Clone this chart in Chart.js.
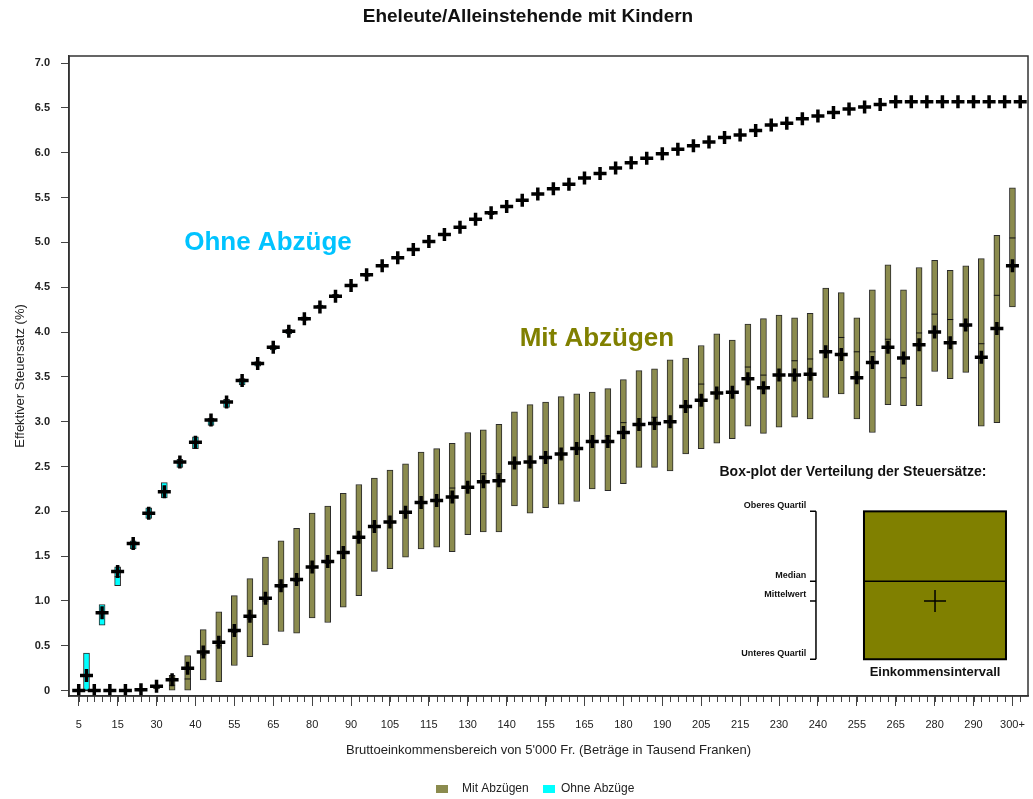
<!DOCTYPE html>
<html>
<head>
<meta charset="utf-8">
<script src="https://cdn.jsdelivr.net/npm/chart.js@4.4.1/dist/chart.umd.min.js"></script>
<style>
html,body{margin:0;padding:0;background:#ffffff;}
#wrap{width:1033px;height:799px;position:relative;}
</style>
</head>
<body>
<div id="wrap"><canvas id="c"></canvas></div>
<script>
// ---------- data ----------
const categories = ['5','10','15','20','25','30','35','40','45','50','55','60','65','70','75','80','85','90','95','100',
  '105','110','115','120','125','130','135','140','145','150','155','160','165','170','175','180','185','190','195','200',
  '205','210','215','220','225','230','235','240','245','250','255','260','265','270','275','280','285','290','295','300','300+'];

// Mit Abzügen (with deductions): quartiles, median, mean
const mitQ1 = [0,0,0,0,0,0.02,0,0,0.12,0.10, 0.28,0.38,0.51,0.66,0.64, 0.81,0.76,0.93,1.06,1.33, 1.36,1.49,1.58,1.60,1.55,
  1.74,1.77,1.77,2.06,1.98, 2.04,2.08,2.11,2.25,2.23, 2.31,2.49,2.49,2.45,2.64, 2.70,2.76,2.81,2.95,2.87,
  2.94,3.05,3.03,3.27,3.31, 3.03,2.88,3.19,3.18,3.18, 3.56,3.48,3.55,2.95,2.99, 4.28];
const mitQ3 = [0,0,0,0,0.02,0.06,0.17,0.39,0.68,0.88, 1.06,1.25,1.49,1.67,1.81, 1.98,2.06,2.20,2.30,2.37, 2.46,2.53,2.66,2.70,2.76,
  2.88,2.91,2.97,3.11,3.19, 3.22,3.28,3.31,3.33,3.37, 3.47,3.57,3.59,3.69,3.71, 3.85,3.98,3.91,4.09,4.15,
  4.19,4.16,4.21,4.49,4.44, 4.16,4.47,4.75,4.47,4.72, 4.80,4.69,4.74,4.82,5.08, 5.61];
const mitMedian = [0,0,0,0,0,0.04,0.06,0.13,0.40,0.50, 0.65,0.80,1.00,1.15,1.22, 1.37,1.42,1.53,1.70,1.82, 1.87,1.98,2.09,2.12,2.26,
  2.27,2.42,2.42,2.54,2.55, 2.60,2.64,2.70,2.78,2.84, 2.99,2.97,3.05,3.00,3.17, 3.42,3.32,3.33,3.61,3.52,
  3.52,3.68,3.70,3.78,3.94, 3.78,3.78,3.92,3.49,3.99, 4.20,4.14,4.06,3.87,4.41, 5.05];
const mitMean = [0,0,0,0,0.01,0.05,0.12,0.25,0.43,0.54, 0.67,0.83,1.03,1.17,1.24, 1.38,1.44,1.54,1.71,1.83, 1.88,1.99,2.10,2.12,2.16,
  2.27,2.33,2.34,2.54,2.55, 2.60,2.64,2.70,2.78,2.78, 2.88,2.97,2.98,3.00,3.17, 3.24,3.32,3.33,3.48,3.38,
  3.52,3.52,3.53,3.78,3.75, 3.49,3.66,3.83,3.71,3.86, 4.00,3.88,4.08,3.72,4.04, 4.74];

// Ohne Abzüge (without deductions)
const ohneQ1 = [0.00,0.73,1.17,1.58,1.92,2.15,2.49,2.70,2.96,3.16, 3.41,3.62,3.80,3.98,4.13, 4.27,4.39,4.51,4.62,4.73, 4.82,4.91,5.00,5.08,5.16,
  5.24,5.31,5.39,5.46,5.53, 5.59,5.64,5.71,5.76,5.82, 5.88,5.93,5.98,6.03,6.07, 6.11,6.16,6.19,6.24,6.30,
  6.32,6.37,6.40,6.44,6.48, 6.50,6.53,6.56,6.56,6.56, 6.56,6.56,6.56,6.56,6.56, 6.56];
const ohneQ3 = [0.42,0.96,1.38,1.67,2.04,2.32,2.58,2.83,3.04,3.25, 3.48,3.67,3.85,4.03,4.17, 4.30,4.42,4.53,4.65,4.75, 4.84,4.93,5.02,5.10,5.18,
  5.27,5.34,5.41,5.48,5.55, 5.61,5.66,5.73,5.78,5.84, 5.90,5.95,6.00,6.05,6.09, 6.13,6.18,6.21,6.26,6.32,
  6.34,6.39,6.42,6.46,6.50, 6.52,6.55,6.58,6.58,6.58, 6.58,6.58,6.58,6.58,6.58, 6.58];
const ohneMedian = [0.00,0.88,1.27,1.63,1.98,2.22,2.54,2.76,3.01,3.22, 3.45,3.65,3.83,4.01,4.15, 4.28,4.40,4.52,4.64,4.74, 4.83,4.92,5.01,5.09,5.17,
  5.26,5.33,5.40,5.47,5.54, 5.60,5.65,5.72,5.77,5.83, 5.89,5.94,5.99,6.04,6.08, 6.12,6.17,6.20,6.25,6.31,
  6.33,6.38,6.41,6.45,6.49, 6.51,6.54,6.57,6.57,6.57, 6.57,6.57,6.57,6.57,6.57, 6.57];
const ohneMean = [0.17,0.87,1.33,1.64,1.98,2.22,2.55,2.77,3.02,3.22, 3.46,3.65,3.83,4.01,4.15, 4.28,4.40,4.52,4.64,4.74, 4.83,4.92,5.01,5.09,5.17,
  5.26,5.33,5.40,5.47,5.54, 5.60,5.65,5.72,5.77,5.83, 5.89,5.94,5.99,6.04,6.08, 6.12,6.17,6.20,6.25,6.31,
  6.33,6.38,6.41,6.45,6.49, 6.51,6.54,6.57,6.57,6.57, 6.57,6.57,6.57,6.57,6.57, 6.57];

// axis tick labels
const xTickLabels = ['5','15','30','40','55','65','80','90','105','115','130','140','155','165','180','190',
  '205','215','230','240','255','265','280','290','300+'];
const yTickLabels = ['0','0.5','1.0','1.5','2.0','2.5','3.0','3.5','4.0','4.5','5.0','5.5','6.0','6.5','7.0'];
const yTickValues = [0,0.5,1,1.5,2,2.5,3,3.5,4,4.5,5,5.5,6,6.5,7];

const seriesNames = ['Mit Abzügen','Ohne Abzüge'];
const titleText = 'Eheleute/Alleinstehende mit Kindern';

// ---------- styles ----------
const FONT = "'Liberation Sans', Arial, sans-serif";
const OLIVE_BOX = '#8B8B4E';
const CYAN_BOX = '#00FFFF';
const OLIVE_TXT = '#808000';
const CYAN_TXT = '#00C3FF';

// box slot: Mit at even slot, Ohne at odd slot of each category
const mitBox = categories.map((c, i) => ({x: 2 * i, y: [mitQ1[i], mitQ3[i]]}));
const ohneBox = categories.map((c, i) => ({x: 2 * i + 1, y: [ohneQ1[i], ohneQ3[i]]}));
const mitMed = categories.map((c, i) => ({x: 2 * i, y: mitMedian[i]}));
const ohneMed = categories.map((c, i) => ({x: 2 * i + 1, y: ohneMedian[i]}));
const mitAvg = categories.map((c, i) => ({x: 2 * i, y: mitMean[i]}));
const ohneAvg = categories.map((c, i) => ({x: 2 * i + 1, y: ohneMean[i]}));

Chart.defaults.font.family = FONT;
Chart.defaults.color = '#222';

const deco = {
  id: 'deco',
  afterDraw(chart) {
    const ctx = chart.ctx;
    const xs = chart.scales.x, ys = chart.scales.y, a = chart.chartArea;
    const X = v => xs.getPixelForValue(v), Y = v => ys.getPixelForValue(v);
    ctx.save();
    // minor ticks at every box slot
    ctx.strokeStyle = '#444';
    ctx.lineWidth = 1;
    for (let s = 0; s < categories.length * 2; s++) {
      const px = Math.round(X(s)) + 0.5;
      ctx.beginPath(); ctx.moveTo(px, a.bottom); ctx.lineTo(px, a.bottom + 6); ctx.stroke();
    }
    // plot frame
    ctx.strokeStyle = '#333';
    ctx.lineWidth = 1.5;
    ctx.strokeRect(a.left, a.top, a.right - a.left, a.bottom - a.top);

    // main title
    ctx.fillStyle = '#111';
    ctx.font = 'bold 19px ' + FONT;
    ctx.textAlign = 'center'; ctx.textBaseline = 'middle';
    ctx.fillText(titleText, 528, 17);

    // series labels in plot
    ctx.font = 'bold 26px ' + FONT;
    ctx.fillStyle = CYAN_TXT;
    ctx.fillText('Ohne Abzüge', X(24.32), Y(5.0));
    ctx.fillStyle = OLIVE_TXT;
    ctx.fillText('Mit Abzügen', X(66.6), Y(3.93));

    // inset explanation
    ctx.fillStyle = '#111';
    ctx.font = 'bold 14px ' + FONT;
    ctx.fillText('Box-plot der Verteilung der Steuersätze:', X(99.5), Y(2.44));

    const bx0 = X(100.92), bx1 = X(119.17), by0 = Y(2.0), by1 = Y(0.35), bmed = Y(1.22), bmean = Y(1.0), bxc = X(110.05);
    ctx.fillStyle = '#808000';
    ctx.fillRect(bx0, by0, bx1 - bx0, by1 - by0);
    ctx.strokeStyle = '#000';
    ctx.lineWidth = 2;
    ctx.strokeRect(bx0, by0, bx1 - bx0, by1 - by0);
    ctx.lineWidth = 1.5;
    ctx.beginPath(); ctx.moveTo(bx0, bmed); ctx.lineTo(bx1, bmed); ctx.stroke();
    ctx.beginPath();
    ctx.moveTo(bxc - 11, bmean); ctx.lineTo(bxc + 11, bmean);
    ctx.moveTo(bxc, bmean - 11); ctx.lineTo(bxc, bmean + 11);
    ctx.stroke();

    // bracket
    const brx = X(94.75), brl = X(93.98);
    ctx.beginPath();
    ctx.moveTo(brx, by0); ctx.lineTo(brx, by1);
    [by0, bmed, bmean, by1].forEach(yy => { ctx.moveTo(brl, yy); ctx.lineTo(brx, yy); });
    ctx.stroke();
    ctx.fillStyle = '#111';
    ctx.font = 'bold 9px ' + FONT;
    ctx.textAlign = 'right';
    const lx = X(93.5);
    ctx.fillText('Oberes Quartil', lx, by0 - 6);
    ctx.fillText('Median', lx, bmed - 6);
    ctx.fillText('Mittelwert', lx, bmean - 6);
    ctx.fillText('Unteres Quartil', lx, by1 - 6);
    ctx.textAlign = 'center';
    ctx.font = 'bold 13px ' + FONT;
    ctx.fillText('Einkommensintervall', bxc, Y(0.2));

    // bottom legend
    ctx.font = '12px ' + FONT;
    ctx.textAlign = 'left';
    ctx.fillStyle = OLIVE_BOX;
    ctx.fillRect(436, 785, 12, 8);
    ctx.fillStyle = '#222';
    ctx.fillText(seriesNames[0], 462, 789);
    ctx.fillStyle = CYAN_BOX;
    ctx.fillRect(543, 785, 12, 8);
    ctx.fillStyle = '#222';
    ctx.fillText(seriesNames[1], 561, 789);
    ctx.restore();
  }
};

new Chart(document.getElementById('c'), {
  data: {
    datasets: [
      {type: 'scatter', label: 'Mittelwert Mit', data: mitAvg, pointStyle: 'cross', radius: 6.5, borderWidth: 3.5,
       borderColor: '#000', backgroundColor: '#000', order: 0},
      {type: 'scatter', label: 'Mittelwert Ohne', data: ohneAvg, pointStyle: 'cross', radius: 6.5, borderWidth: 3.5,
       borderColor: '#000', backgroundColor: '#000', order: 0},
      {type: 'scatter', label: 'Median Mit', data: mitMed, pointStyle: 'line', radius: 3, borderWidth: 1,
       borderColor: '#111', order: 1},
      {type: 'scatter', label: 'Median Ohne', data: ohneMed, pointStyle: 'line', radius: 3, borderWidth: 1,
       borderColor: '#111', order: 1},
      {type: 'bar', label: seriesNames[0], data: mitBox, backgroundColor: OLIVE_BOX, borderColor: '#2a2a2a',
       borderWidth: 1, borderSkipped: false, barThickness: 6, grouped: false, order: 2},
      {type: 'bar', label: seriesNames[1], data: ohneBox, backgroundColor: CYAN_BOX, borderColor: '#2a2a2a',
       borderWidth: 1, borderSkipped: false, barThickness: 6, grouped: false, order: 2}
    ]
  },
  options: {
    responsive: true,
    maintainAspectRatio: false,
    animation: false,
    events: [],
    layout: {autoPadding: false, padding: {top: 56, right: 5, bottom: 39, left: 0}},
    plugins: {legend: {display: false}, tooltip: {enabled: false}, title: {display: false}},
    scales: {
      x: {
        type: 'linear', min: -1.25, max: 122, offset: false,
        afterBuildTicks: s => { s.ticks = xTickLabels.map((l, k) => ({value: k * 5})); },
        afterFit: s => { s.height = 64; s.paddingLeft = 0; s.paddingRight = 0; },
        grid: {offset: false, drawOnChartArea: false, drawTicks: true, tickLength: 10, tickColor: '#444'},
        border: {display: true, color: '#333', width: 1.5},
        ticks: {autoSkip: false, maxRotation: 0, padding: 12, font: {size: 11}, color: '#222',
                callback: (v, i) => xTickLabels[i]},
        title: {display: true, text: "Bruttoeinkommensbereich von 5'000 Fr. (Beträge in Tausend Franken)",
                font: {size: 13}, color: '#222', padding: {top: 0, bottom: 2}}
      },
      y: {
        min: -0.06, max: 7.08,
        afterBuildTicks: s => { s.ticks = yTickValues.map(v => ({value: v})); },
        afterFit: s => { s.width = 69; s.paddingTop = 0; s.paddingBottom = 0; },
        grid: {drawOnChartArea: false, drawTicks: true, tickLength: 8, tickColor: '#444'},
        border: {display: true, color: '#333', width: 1.5},
        ticks: {padding: 11, font: {size: 11, weight: 'bold'}, color: '#222',
                callback: (v, i) => yTickLabels[i]},
        title: {display: true, text: 'Effektiver Steuersatz (%)', font: {size: 13}, color: '#222',
                padding: {top: 13, bottom: 0}}
      }
    }
  },
  plugins: [deco]
});
</script>
</body>
</html>
